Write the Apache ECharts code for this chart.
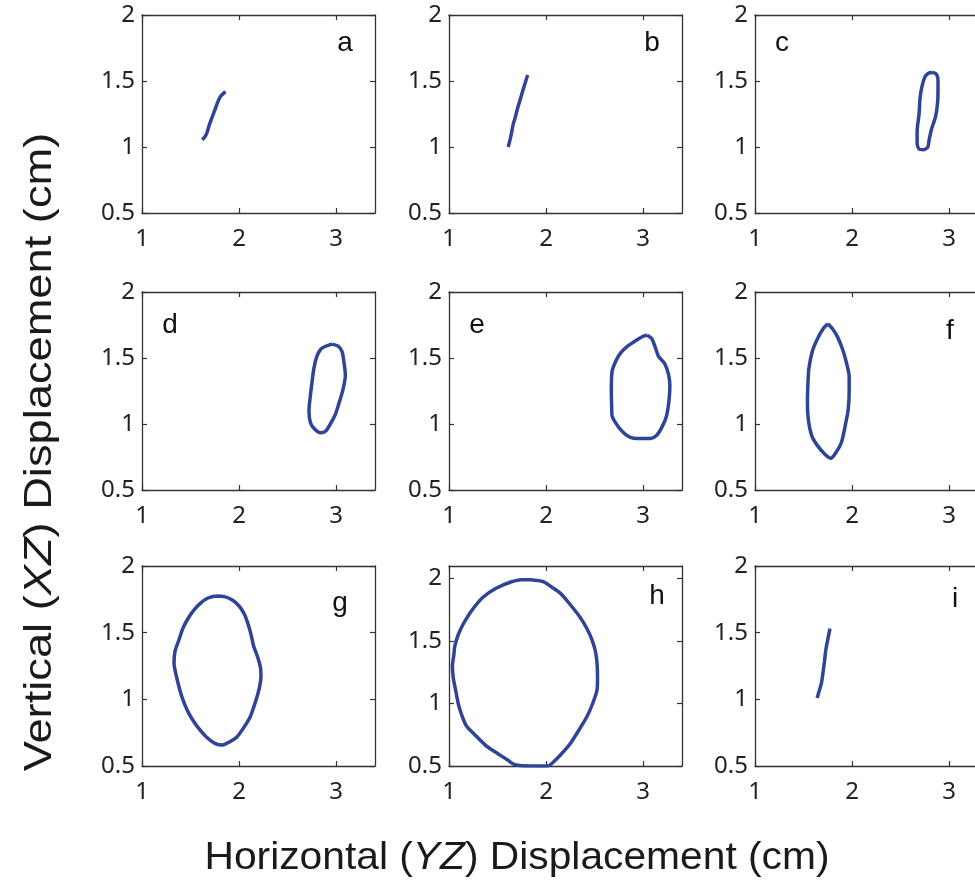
<!DOCTYPE html>
<html>
<head>
<meta charset="utf-8">
<style>
  html, body { margin: 0; padding: 0; background: #fff; overflow: hidden; }
  #chart { width: 1000px; height: 882px; }
</style>
<script src="https://cdn.jsdelivr.net/npm/echarts@6/dist/echarts.min.js"></script>
</head>
<body>
<div id="chart"></div>
<script>
// Displacement trajectories, one per panel, in cm: [horizontal YZ, vertical XZ]
const panelLetters = ['a', 'b', 'c', 'd', 'e', 'f', 'g', 'h', 'i'];

const xTicks = [1, 2, 3];
const yTicks = [0.5, 1, 1.5, 2];
const xRange = [1, 3.4];
const yRange = [0.5, 2];
const yRangeTall = [0.5, 2.1];

const pathA = [[1.62, 1.055], [1.65, 1.08], [1.67, 1.11], [1.69, 1.16], [1.72, 1.22],
  [1.75, 1.28], [1.78, 1.34], [1.81, 1.385], [1.86, 1.42]];

const pathB = [[1.61, 1.0], [1.63, 1.06], [1.647, 1.116], [1.66, 1.17], [1.68, 1.217],
  [1.705, 1.29], [1.732, 1.356], [1.77, 1.45], [1.81, 1.545]];

const pathC = [[2.83, 1.565], [2.87, 1.55], [2.885, 1.5], [2.885, 1.42], [2.88, 1.33],
  [2.86, 1.23], [2.82, 1.14], [2.795, 1.06], [2.78, 1.0], [2.74, 0.98], [2.69, 0.985],
  [2.67, 1.03], [2.67, 1.12], [2.69, 1.25], [2.7, 1.37], [2.72, 1.46], [2.75, 1.53],
  [2.79, 1.56], [2.83, 1.565]];

const pathD = [[2.96, 1.605], [3.02, 1.59], [3.06, 1.55], [3.08, 1.47], [3.095, 1.37],
  [3.07, 1.26], [3.03, 1.16], [2.99, 1.07], [2.94, 1.0], [2.89, 0.945], [2.84, 0.933],
  [2.78, 0.96], [2.735, 1.01], [2.72, 1.1], [2.735, 1.22], [2.75, 1.31], [2.77, 1.42],
  [2.8, 1.51], [2.84, 1.565], [2.88, 1.585], [2.96, 1.605]];

const pathE = [[3.04, 1.672], [3.09, 1.645], [3.12, 1.59], [3.16, 1.51], [3.22, 1.46],
  [3.26, 1.38], [3.275, 1.29], [3.265, 1.17], [3.24, 1.06], [3.196, 0.98], [3.14, 0.915],
  [3.075, 0.891], [2.98, 0.89], [2.9, 0.892], [2.83, 0.915], [2.77, 0.955], [2.715, 1.01],
  [2.68, 1.06], [2.675, 1.15], [2.672, 1.25], [2.68, 1.4], [2.72, 1.48], [2.77, 1.54],
  [2.84, 1.59], [2.93, 1.635], [3.0, 1.665], [3.04, 1.672]];

const pathF = [[1.75, 1.76], [1.8, 1.72], [1.85, 1.66], [1.9, 1.57], [1.94, 1.47],
  [1.97, 1.36], [1.97, 1.25], [1.96, 1.11], [1.93, 0.99], [1.89, 0.86], [1.83, 0.78],
  [1.78, 0.74], [1.72, 0.77], [1.64, 0.84], [1.585, 0.91], [1.55, 1.03], [1.54, 1.16],
  [1.545, 1.3], [1.555, 1.42], [1.59, 1.55], [1.64, 1.64], [1.7, 1.72], [1.75, 1.76]];

const pathG = [[1.76, 1.775], [1.85, 1.77], [1.93, 1.745], [2.0, 1.7], [2.05, 1.645],
  [2.09, 1.57], [2.12, 1.495], [2.15, 1.4], [2.19, 1.32], [2.22, 1.24], [2.225, 1.17],
  [2.21, 1.09], [2.185, 1.02], [2.15, 0.94], [2.115, 0.87], [2.05, 0.79], [1.98, 0.72],
  [1.9, 0.68], [1.83, 0.657], [1.75, 0.67], [1.66, 0.72], [1.57, 0.795], [1.51, 0.86],
  [1.465, 0.92], [1.42, 1.0], [1.39, 1.07], [1.355, 1.17], [1.33, 1.27], [1.34, 1.36],
  [1.38, 1.445], [1.42, 1.53], [1.465, 1.595], [1.53, 1.665], [1.6, 1.72], [1.68, 1.76],
  [1.76, 1.775]];

const pathH = [[1.84, 1.99], [1.97, 1.975], [2.06, 1.93], [2.15, 1.88], [2.25, 1.79],
  [2.35, 1.69], [2.42, 1.6], [2.475, 1.505], [2.51, 1.41], [2.525, 1.32], [2.53, 1.21],
  [2.525, 1.11], [2.48, 1.0], [2.42, 0.894], [2.34, 0.79], [2.25, 0.68], [2.15, 0.59],
  [2.06, 0.52], [2.02, 0.5], [1.85, 0.5], [1.68, 0.51], [1.6, 0.55], [1.5, 0.6],
  [1.39, 0.657], [1.28, 0.74], [1.18, 0.82], [1.13, 0.91], [1.095, 1.0], [1.07, 1.1],
  [1.045, 1.2], [1.035, 1.3], [1.05, 1.39], [1.06, 1.46], [1.1, 1.56], [1.15, 1.64],
  [1.24, 1.75], [1.35, 1.85], [1.48, 1.92], [1.63, 1.97], [1.75, 1.99], [1.84, 1.99]];

const pathI = [[1.64, 1.01], [1.66, 1.06], [1.685, 1.123], [1.7, 1.2], [1.715, 1.28],
  [1.73, 1.373], [1.75, 1.45], [1.772, 1.53]];

const panelPaths = [pathA, pathB, pathC, pathD, pathE, pathF, pathG, pathH, pathI];
const panelYRange = [yRange, yRange, yRange, yRange, yRange, yRange, yRange, yRangeTall, yRange];

// Layout (pixels)
const colLeft = [142, 449, 755];
const rowTop = [15, 292, 566];
const rowHeight = [198, 198, 200];
const panelWidth = 233;
const letterPos = [[345, 43], [652, 43], [782, 43], [170, 325], [477, 325], [950, 331],
  [340, 603], [657, 596], [955, 599]];

const axisColor = '#333333';
const textColor = '#222222';
const traceColor = '#2f4496';
const tickFont = 'Noto Sans';
const titleFont = 'Liberation Sans';

const grids = [], xAxes = [], yAxes = [], series = [], graphics = [];

function onlyTicks(list) {
  return function (v) {
    return list.some(t => Math.abs(t - v) < 1e-9) ? String(v) : '';
  };
}

panelLetters.forEach((letter, i) => {
  const r = Math.floor(i / 3), c = i % 3;
  grids.push({
    left: colLeft[c], top: rowTop[r], width: panelWidth, height: rowHeight[r],
    containLabel: false, outerBoundsMode: 'none', show: false
  });
  const yr = panelYRange[i];
  const lineStyle = { show: true, lineStyle: { color: axisColor, width: 1.3 } };
  const tick = { show: true, inside: true, length: 5,
    lineStyle: { color: axisColor, width: 1.2 } };
  // bottom axis with labels
  xAxes.push({
    type: 'value', gridIndex: i, position: 'bottom', min: xRange[0], max: xRange[1], interval: 1,
    axisLine: lineStyle, splitLine: { show: false },
    axisTick: Object.assign({}, tick, { customValues: xTicks }),
    axisLabel: { show: true, customValues: xTicks, formatter: onlyTicks(xTicks), margin: 14,
      color: textColor, fontFamily: tickFont, fontSize: 24 }
  });
  // top frame edge
  xAxes.push({
    type: 'value', gridIndex: i, position: 'top', min: xRange[0], max: xRange[1], interval: 1,
    axisLine: lineStyle, splitLine: { show: false },
    axisTick: Object.assign({}, tick, { customValues: xTicks }),
    axisLabel: { show: false }
  });
  // left axis with labels
  yAxes.push({
    type: 'value', gridIndex: i, position: 'left', min: yr[0], max: yr[1], interval: 0.5,
    axisLine: lineStyle, splitLine: { show: false },
    axisTick: Object.assign({}, tick, { customValues: yTicks }),
    axisLabel: { show: true, customValues: yTicks, formatter: onlyTicks(yTicks), margin: 7,
      color: textColor, fontFamily: tickFont, fontSize: 24 }
  });
  // right frame edge
  yAxes.push({
    type: 'value', gridIndex: i, position: 'right', min: yr[0], max: yr[1], interval: 0.5,
    axisLine: lineStyle, splitLine: { show: false },
    axisTick: Object.assign({}, tick, { customValues: yTicks }),
    axisLabel: { show: false }
  });
  series.push({
    type: 'line', name: letter, xAxisIndex: 2 * i, yAxisIndex: 2 * i,
    data: panelPaths[i], showSymbol: false, symbol: 'none', smooth: 0.25, clip: true,
    lineStyle: { color: traceColor, width: 3.5 }, silent: true
  });
  graphics.push({
    type: 'text', x: letterPos[i][0], y: letterPos[i][1], silent: true,
    style: { text: letter, fill: '#111', font: '28px "' + titleFont + '"',
      align: 'center', verticalAlign: 'middle' }
  });
});

const richParts = {
  n: { fontFamily: titleFont, fontSize: 39, fill: '#1a1a1a', color: '#1a1a1a' },
  i: { fontFamily: titleFont, fontSize: 39, fontStyle: 'italic', fill: '#1a1a1a', color: '#1a1a1a' }
};

graphics.push({
  type: 'text', x: 517, y: 858, scaleX: 1.045, silent: true,
  style: { text: '{n|Horizontal (}{i|YZ}{n|) Displacement (cm)}', rich: richParts,
    align: 'center', verticalAlign: 'middle', fill: '#1a1a1a' }
});
graphics.push({
  type: 'text', x: 40, y: 452, rotation: Math.PI / 2, scaleX: 1.16, silent: true,
  style: { text: '{n|Vertical (}{i|XZ}{n|) Displacement (cm)}', rich: richParts,
    align: 'center', verticalAlign: 'middle', fill: '#1a1a1a' }
});

const chart = echarts.init(document.getElementById('chart'), null, { renderer: 'canvas' });
chart.setOption({
  animation: false,
  backgroundColor: '#ffffff',
  grid: grids,
  xAxis: xAxes,
  yAxis: yAxes,
  series: series,
  graphic: graphics
});
</script>
</body>
</html>
